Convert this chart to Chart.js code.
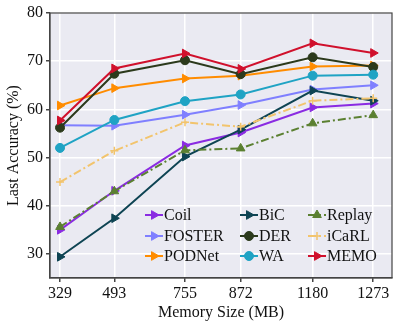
<!DOCTYPE html>
<html>
<head>
<meta charset="utf-8">
<script src="https://cdn.jsdelivr.net/npm/chart.js@4/dist/chart.umd.min.js"></script>
<style>body { margin: 0; background: #fff; }</style>
</head>
<body>
<canvas id="myChart" width="399" height="328"></canvas>
<script>
const memorySizes = ['329', '493', '755', '872', '1180', '1273'];
// the original spaces the sizes unevenly, so each one gets its own spot on the axis
const xPositions = [0, 0.867, 1.995, 2.884, 4.033, 5];
const yTicks = [30, 40, 50, 60, 70, 80];

const methods = ['Coil', 'FOSTER', 'PODNet', 'BiC', 'DER', 'WA', 'Replay', 'iCaRL', 'MEMO'];
const coil = [35.0, 43.1, 52.5, 55.2, 60.4, 61.2];
const foster = [56.7, 56.6, 58.9, 60.9, 64.1, 65.0];
const podnet = [60.8, 64.4, 66.4, 67.0, 68.9, 69.1];
const bic = [29.4, 37.4, 50.2, 55.8, 63.9, 61.8];
const der = [56.2, 67.4, 70.2, 67.3, 70.8, 68.8];
const wa = [52.0, 57.8, 61.7, 63.1, 67.0, 67.2];
const replay = [35.6, 43.0, 51.5, 51.9, 57.1, 58.8];
const icarl = [44.9, 51.4, 57.3, 56.4, 61.8, 62.3];
const memo = [57.7, 68.5, 71.6, 68.4, 73.7, 71.7];

const series = [coil, foster, podnet, bic, der, wa, replay, icarl, memo];
const colors = ['#8A2BE2', '#7F7FFF', '#FF8C00', '#0E4453', '#2C3A1C', '#1FA3C4', '#5B8031', '#F2C46D', '#D0102C'];
const markers = ['triangle', 'triangle', 'triangle', 'triangle', 'circle', 'circle', 'triangle', 'cross', 'triangle'];
const rotations = [90, 90, 90, 90, 0, 0, 0, 0, 90];
const dashed = [false, false, false, false, false, false, true, true, false];

const serif = 'Liberation Serif';

const datasets = methods.map((name, i) => ({
  label: name,
  data: series[i].map((v, j) => ({ x: xPositions[j], y: v })),
  borderColor: colors[i],
  backgroundColor: colors[i],
  borderWidth: 2,
  borderDash: dashed[i] ? [8, 3, 2, 3] : [],
  pointStyle: markers[i],
  pointRotation: rotations[i],
  pointRadius: markers[i] === 'circle' ? 4.5 : markers[i] === 'cross' ? 4 : 5,
  pointBorderWidth: markers[i] === 'cross' ? 1.5 : 1,
  // later methods sit on top, like the original
  order: methods.length - i,
}));

// grey plot background, the box round it and the 3x3 legend
const plotFrame = {
  id: 'plotFrame',
  beforeDraw(chart) {
    const { ctx, chartArea: a } = chart;
    ctx.save();
    ctx.fillStyle = '#EAEAF2';
    ctx.fillRect(a.left, a.top, a.width, a.height);
    ctx.restore();
  },
  afterDraw(chart) {
    const { ctx, chartArea: a } = chart;
    ctx.save();
    ctx.strokeStyle = '#444';
    ctx.lineWidth = 1.2;
    ctx.strokeRect(a.left, a.top, a.width, a.height);

    const colX = [a.left + 95, a.left + 190, a.left + 258];
    const rowY = [a.bottom - 63, a.bottom - 42, a.bottom - 22];
    ctx.font = '16px "' + serif + '"';
    ctx.textBaseline = 'middle';
    chart.data.datasets.forEach((ds, i) => {
      const x = colX[Math.floor(i / 3)];
      const y = rowY[i % 3];
      ctx.strokeStyle = ds.borderColor;
      ctx.fillStyle = ds.borderColor;
      ctx.lineWidth = 2;
      ctx.setLineDash(ds.borderDash);
      ctx.beginPath();
      ctx.moveTo(x, y);
      ctx.lineTo(x + 18, y);
      ctx.stroke();
      ctx.setLineDash([]);
      ctx.lineWidth = ds.pointBorderWidth;
      Chart.helpers.drawPoint(ctx, {
        pointStyle: ds.pointStyle,
        rotation: ds.pointRotation,
        radius: ds.pointRadius,
        borderWidth: ds.pointBorderWidth,
      }, x + 9, y);
      ctx.fillStyle = '#111';
      ctx.fillText(ds.label, x + 19, y + 1);
    });
    ctx.restore();
  },
};

const ctx = document.getElementById('myChart').getContext('2d');

// eslint-disable-next-line no-undef, no-unused-vars
const chart = new Chart(ctx, {
  type: 'line',
  data: { datasets },
  options: {
    responsive: false,
    animation: false,
    layout: { padding: { top: 13, right: 7, left: 0, bottom: 0 } },
    plugins: { legend: { display: false }, tooltip: { enabled: false } },
    scales: {
      x: {
        type: 'linear',
        min: -0.16,
        max: 5.3,
        afterBuildTicks: (scale) => { scale.ticks = xPositions.map((v) => ({ value: v })); },
        afterFit: (scale) => { scale.height = 50; },
        ticks: {
          autoSkip: false,
          maxRotation: 0,
          padding: 2,
          color: '#111',
          font: { family: serif, size: 16 },
          callback: (value) => memorySizes[xPositions.indexOf(value)],
        },
        grid: { color: '#fff', lineWidth: 1.5, tickColor: '#444', tickLength: 4 },
        border: { color: '#444', width: 1.2 },
        title: {
          display: true,
          text: 'Memory Size (MB)',
          color: '#111',
          font: { family: serif, size: 16 },
          padding: { top: 0, bottom: 6 },
        },
      },
      y: {
        min: 25,
        max: 80,
        afterBuildTicks: (scale) => { scale.ticks = yTicks.map((v) => ({ value: v })); },
        afterFit: (scale) => { scale.width = 50; },
        ticks: { color: '#111', padding: 3, font: { family: serif, size: 16 } },
        grid: { color: '#fff', lineWidth: 1.5, tickColor: '#444', tickLength: 4 },
        border: { color: '#444', width: 1.2 },
        title: {
          display: true,
          text: 'Last Accuracy (%)',
          color: '#111',
          font: { family: serif, size: 16 },
          padding: { top: 4, bottom: 4 },
        },
      },
    },
  },
  plugins: [plotFrame],
});
</script>
</body>
</html>
